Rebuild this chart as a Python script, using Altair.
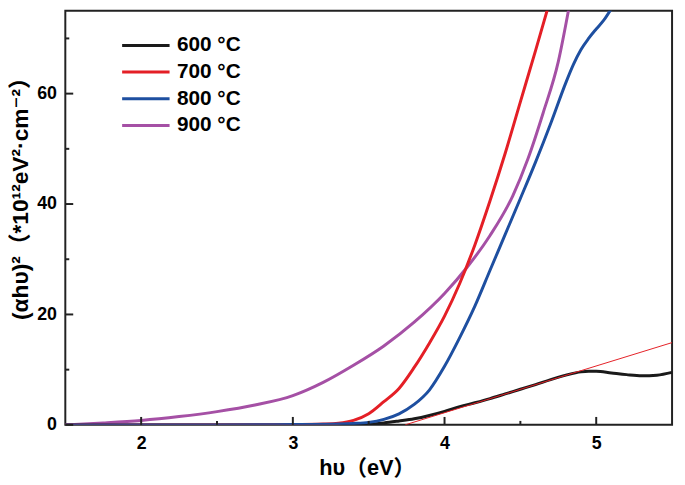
import altair as alt
import pandas as pd

# ---------------- data ----------------
labels = ["600 °C", "700 °C", "800 °C", "900 °C"]
colors = ["#1a1a1a", "#e41f26", "#1e4fa0", "#a550a5"]

x600 = [1.5, 2.5, 3.0, 3.3, 3.5, 3.6, 3.7, 3.8, 3.9, 4.0, 4.1, 4.2, 4.3, 4.4,
        4.5, 4.6, 4.7, 4.8, 4.9, 4.95, 5.0, 5.1, 5.2, 5.3, 5.4, 5.5]
y600 = [0.0, 0.0, 0.0, 0.05, 0.15, 0.35, 0.7, 1.1, 1.7, 2.45, 3.3, 4.0, 4.75, 5.6,
        6.45, 7.3, 8.2, 9.0, 9.6, 9.7, 9.7, 9.4, 9.1, 8.9, 9.0, 9.5]

x700 = [1.5, 2.5, 3.0, 3.2, 3.3, 3.4, 3.5, 3.6, 3.7, 3.8, 3.9, 4.0, 4.1, 4.2,
        4.3, 4.4, 4.5, 4.6, 4.7]
y700 = [0.0, 0.0, 0.05, 0.15, 0.3, 0.8, 2.0, 4.2, 6.6, 10.4, 14.8, 19.7, 25.6, 32.6,
        40.6, 49.2, 58.5, 67.8, 77.3]

x800 = [1.5, 2.5, 3.0, 3.3, 3.4, 3.5, 3.6, 3.7, 3.8, 3.9, 4.0, 4.1, 4.2, 4.3,
        4.4, 4.5, 4.6, 4.7, 4.8, 4.85, 4.9, 4.95, 5.0, 5.05, 5.1]
y800 = [0.0, 0.0, 0.05, 0.15, 0.25, 0.45, 1.0, 2.0, 3.7, 6.3, 10.6, 15.8, 21.5, 28.0,
        34.5, 41.0, 47.6, 54.6, 62.0, 65.3, 68.0, 70.0, 71.7, 73.3, 75.4]

x900 = [1.5, 1.75, 2.0, 2.25, 2.5, 2.75, 3.0, 3.2, 3.4, 3.6, 3.8, 4.0, 4.15, 4.3,
        4.45, 4.55, 4.65, 4.75, 4.82]
y900 = [0.0, 0.35, 0.8, 1.5, 2.4, 3.6, 5.3, 7.7, 10.8, 14.3, 18.6, 23.8, 28.6, 34.3,
        41.5, 48.2, 56.5, 65.8, 75.5]

tangent_x = [3.74, 5.5]
tangent_y = [0.0, 14.9]

x_major = [2, 3, 4, 5]
x_minor = [2.5, 3.5, 4.5]
y_major = [0, 20, 40, 60]
y_minor = [10, 30, 50, 70]

# ---------------- build tables ----------------
rows = []
for lab, xs_, ys_ in [(labels[3], x900, y900), (labels[0], x600, y600),
                      (labels[1], x700, y700), (labels[2], x800, y800)]:
    for a, b in zip(xs_, ys_):
        rows.append({"series": lab, "x": a, "y": b})
df = pd.DataFrame(rows)

W, H = 614, 419
FONT = "Liberation Sans, Arial, Noto Sans CJK SC, DejaVu Sans"

xscale = alt.Scale(domain=[1.5, 5.5], nice=False, zero=False)
yscale = alt.Scale(domain=[0, 75], nice=False, zero=False)

curves = alt.Chart(df).mark_line(strokeWidth=3, clip=True, interpolate="monotone").encode(
    x=alt.X("x:Q", scale=xscale,
            axis=alt.Axis(values=x_major, format="d", title="hυ（eV）",
                          labelPadding=10, titleX=305, titleY=50,
                          titleFontSize=22,
                          titleBaseline="alphabetic", titleAlign="center")),
    y=alt.Y("y:Q", scale=yscale,
            axis=alt.Axis(values=y_major, format="d",
                          title="(αhυ)²（*10¹²eV²·cm⁻²）",
                          labelPadding=9, titleX=-45, titleY=184,
                          titleFontSize=23,
                          titleBaseline="middle", titleAlign="center",
                          titleAngle=270)),
    color=alt.Color("series:N",
                    scale=alt.Scale(domain=labels, range=colors),
                    legend=alt.Legend(title=None, orient="none", legendX=56, legendY=21.5,
                                      symbolType="stroke", symbolSize=2304,
                                      symbolStrokeWidth=3, clipHeight=27,
                                      labelOffset=6, labelFontSize=21,
                                      labelFontWeight="bold", labelFont=FONT,
                                      labelColor="black", padding=0, rowPadding=0)),
)

tangent = alt.Chart(pd.DataFrame({"x": tangent_x, "y": tangent_y})).mark_line(
    color="#e41f26", strokeWidth=1, clip=True
).encode(x=alt.X("x:Q", scale=xscale), y=alt.Y("y:Q", scale=yscale))

tick_style = dict(color="#222222", strokeWidth=2)

xt_major = alt.Chart(pd.DataFrame({"x": x_major})).mark_rule(**tick_style).encode(
    x=alt.X("x:Q", scale=xscale), y=alt.value(H - 8), y2=alt.value(H))
xt_minor = alt.Chart(pd.DataFrame({"x": x_minor})).mark_rule(**tick_style).encode(
    x=alt.X("x:Q", scale=xscale), y=alt.value(H - 4), y2=alt.value(H))
yt_major = alt.Chart(pd.DataFrame({"y": y_major})).mark_rule(**tick_style).encode(
    y=alt.Y("y:Q", scale=yscale), x=alt.value(0), x2=alt.value(8))
yt_minor = alt.Chart(pd.DataFrame({"y": y_minor})).mark_rule(**tick_style).encode(
    y=alt.Y("y:Q", scale=yscale), x=alt.value(0), x2=alt.value(4))

chart = alt.layer(curves, tangent, xt_major, xt_minor, yt_major, yt_minor).properties(
    width=W, height=H, autosize=alt.AutoSizeParams(type="none"),
    padding={"left": 58, "top": 0, "right": 5, "bottom": 57},
).configure_view(
    stroke="#222222", strokeWidth=2
).configure_axis(
    grid=False, domain=False, ticks=False,
    labelFont=FONT, labelFontSize=18, labelFontWeight="bold", labelColor="black",
    titleFont=FONT, titleFontSize=20, titleFontWeight="bold", titleColor="black",
)

chart.save("out.html", embed_options={"renderer": "svg", "actions": False})
